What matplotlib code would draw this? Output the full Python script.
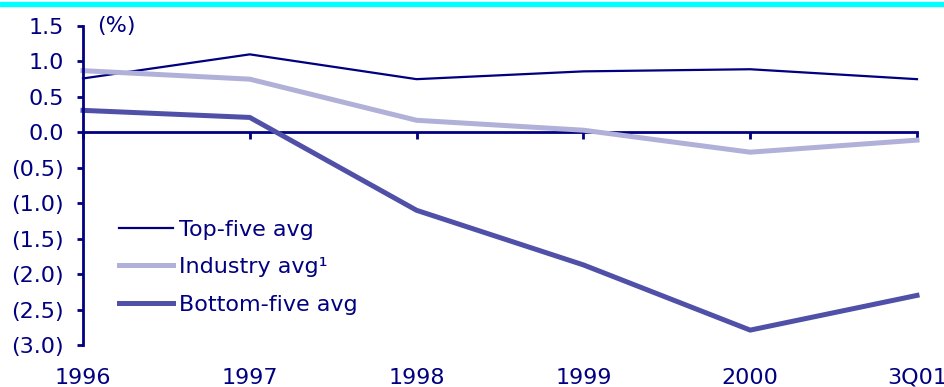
import numpy as np
import matplotlib.pyplot as plt
from matplotlib.patches import Rectangle

## data
periods = ['1996', '1997', '1998', '1999', '2000', '3Q01']
top_five = [0.76, 1.10, 0.75, 0.86, 0.89, 0.75]
industry = [0.87, 0.75, 0.17, 0.03, -0.28, -0.11]
bottom_five = [0.31, 0.21, -1.10, -1.87, -2.79, -2.30]
yticks = [1.5, 1.0, 0.5, 0.0, -0.5, -1.0, -1.5, -2.0, -2.5, -3.0]

navy = '#000080'
fs = 16


def fmt(v):
    if v < 0:
        return '({:.1f})'.format(-v)
    return '{:.1f}'.format(v)


fig = plt.figure(figsize=(9.45, 3.87), dpi=100)
ax = fig.add_axes([83 / 945, 1 - 345 / 387, (917 - 83) / 945, (345 - 26) / 387])

x = np.arange(len(periods))
ax.plot(x, top_five, color=navy, lw=1.6, label='Top-five avg', clip_on=False)
ax.plot(x, industry, color='#B0B0D8', lw=3.6, label='Industry avg\u00b9', clip_on=False)
ax.plot(x, bottom_five, color='#5050A8', lw=3.6, label='Bottom-five avg', clip_on=False)

ax.set_xlim(0, len(periods) - 1)
ax.set_ylim(-3.0, 1.5)

# spines
for s in ['top', 'right']:
    ax.spines[s].set_visible(False)
ax.spines['left'].set_color(navy)
ax.spines['left'].set_linewidth(2)
ax.spines['bottom'].set_position(('data', 0))
ax.spines['bottom'].set_color(navy)
ax.spines['bottom'].set_linewidth(2)
ax.spines['bottom'].set_zorder(1)

ax.set_yticks(yticks)
ax.set_yticklabels([fmt(v) for v in yticks])
ax.tick_params(axis='y', direction='out', length=4.5, width=2, color=navy,
               labelcolor=navy, labelsize=fs, pad=9)
ax.set_xticks(x)
ax.set_xticklabels([])
ax.tick_params(axis='x', direction='out', length=5, width=2, color=navy)

# period labels under the plot
for xi, p in zip(x, periods):
    ax.text(xi, -0.103, p, transform=ax.get_xaxis_transform(), ha='center', va='center',
            color=navy, fontsize=fs)

ax.text(0.017, 1.0, '(%)', transform=ax.transAxes, ha='left', va='center',
        color=navy, fontsize=fs)

leg = ax.legend(loc='upper left', bbox_to_anchor=(0.019, 0.455), frameon=False,
                fontsize=fs, handlelength=2.45, handletextpad=0.25, labelspacing=0.78)
for t in leg.get_texts():
    t.set_color(navy)

# cyan band at top
fig.patches.append(Rectangle((0, 1 - 6 / 387), 1, 4 / 387, transform=fig.transFigure,
                             color='#00FFFF', figure=fig))

fig.savefig('out.png', dpi=100)
